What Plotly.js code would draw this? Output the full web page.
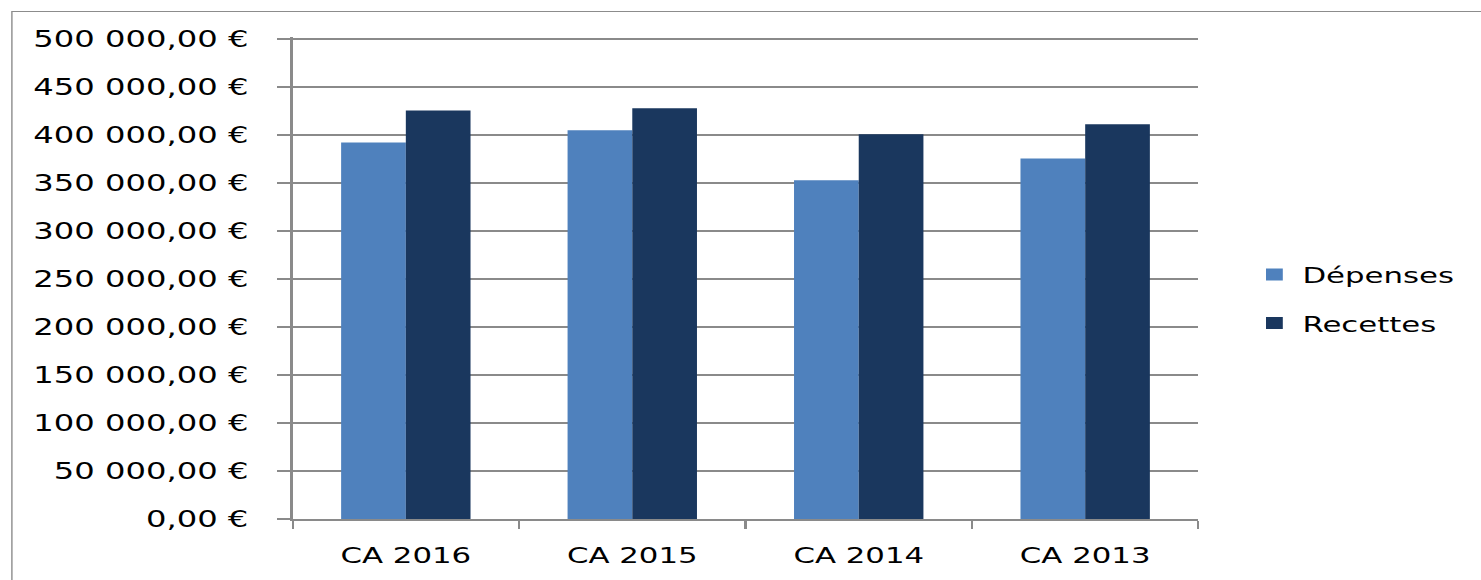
<!DOCTYPE html>
<html>
<head>
<meta charset="utf-8">
<script src="https://cdn.plot.ly/plotly-3.0.1.min.js"></script>
<style>
  html, body { margin: 0; padding: 0; background: #fff; overflow: hidden; width: 1481px; height: 580px; }
  #wrap { position: absolute; left: 0; top: 0; width: 1058px; height: 580px; transform: scaleX(1.4); transform-origin: 0 0; }
  #frame { position: absolute; left: 8px; top: 11px; width: 2000px; height: 2000px; border: 1.4px solid #8c8c8c; box-sizing: border-box; }
  #chart { position: absolute; left: 0; top: 0; width: 1058px; height: 580px; }
</style>
</head>
<body>
<div id="wrap">
  <div id="frame"></div>
  <div id="chart"></div>
</div>
<script>
const categories = ["CA 2016", "CA 2015", "CA 2014", "CA 2013"];
const depenses = [392100, 404900, 352800, 375400];
const recettes = [425400, 427800, 400700, 411100];
const seriesNames = ["Dépenses", "Recettes"];

const fontFamily = "'DejaVu Sans', Verdana, sans-serif";

const traces = [
  { type: "bar", name: seriesNames[0], x: categories, y: depenses,
    marker: { color: "#4f81bd" }, legendgroup: "a", hoverinfo: "skip" },
  { type: "bar", name: seriesNames[1], x: categories, y: recettes,
    marker: { color: "#1a375e" }, legendgroup: "b", hoverinfo: "skip" }
];

const layout = {
  width: 1058, height: 580,
  margin: { l: 209, r: 202, t: 37, b: 61, pad: 0 },
  paper_bgcolor: "rgba(0,0,0,0)",
  plot_bgcolor: "rgba(0,0,0,0)",
  separators: ", ",
  font: { family: fontFamily, size: 22, color: "#000" },
  barmode: "group",
  bargap: 0.4286,
  bargroupgap: 0,
  showlegend: true,
  legend: {
    x: 1.053, xanchor: "left", y: 0.456, yanchor: "middle",
    traceorder: "grouped", tracegroupgap: 17,
    font: { family: fontFamily, size: 22, color: "#000" },
    bgcolor: "rgba(0,0,0,0)"
  },
  xaxis: {
    type: "category",
    showline: true, linecolor: "#8a8a8a", linewidth: 1.5,
    ticks: "outside", tickson: "boundaries", ticklen: 8, tickwidth: 1.5, tickcolor: "#8a8a8a",
    showgrid: false, zeroline: false,
    ticklabelstandoff: 16,
    tickfont: { family: fontFamily, size: 22, color: "#000" }
  },
  yaxis: {
    range: [0, 502000], tickmode: "linear", dtick: 50000, tick0: 0,
    tickformat: ",.2f", ticksuffix: " €",
    showline: true, linecolor: "#8a8a8a", linewidth: 2,
    ticks: "outside", ticklen: 9, tickwidth: 1.5, tickcolor: "#8a8a8a",
    showgrid: true, gridcolor: "#8a8a8a", gridwidth: 1.5,
    zeroline: false,
    ticklabelstandoff: 16,
    tickfont: { family: fontFamily, size: 23, color: "#000" }
  }
};

Plotly.newPlot("chart", traces, layout, { displayModeBar: false, staticPlot: true });
</script>
</body>
</html>
